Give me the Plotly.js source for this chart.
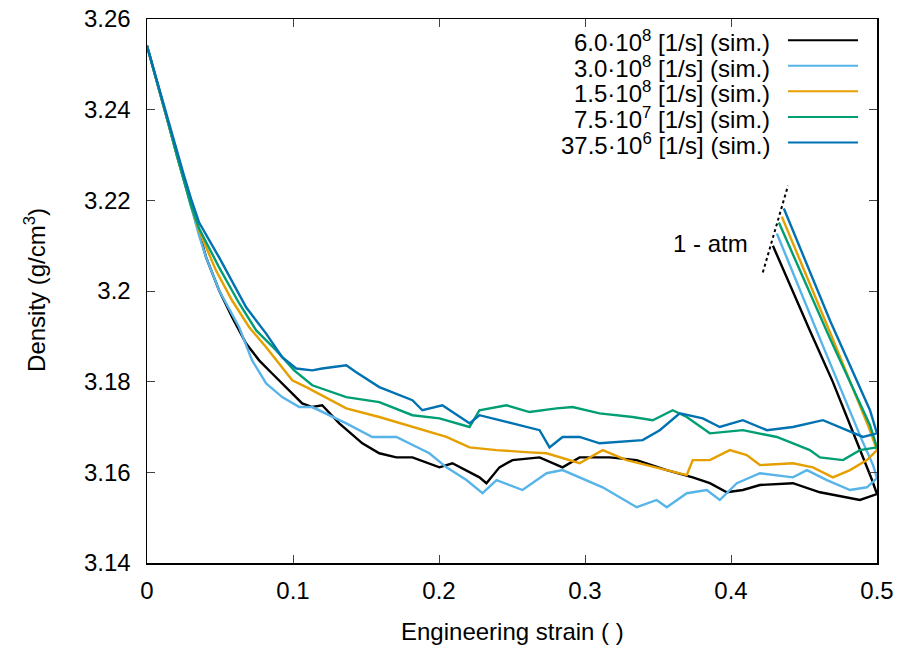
<!DOCTYPE html>
<html>
<head>
<meta charset="utf-8">
<script src="https://cdn.plot.ly/plotly-3.0.1.min.js"></script>
<style>html,body{margin:0;padding:0;background:#fff;}#chart{width:899px;height:648px;}</style>
</head>
<body>
<div id="chart"></div>
<script>
// ---- Data (strain, density); each series: loading path, then unloading to 1 atm ----
const seriesNames = [
  "6.0·10<sup>8</sup> [1/s] (sim.)",
  "3.0·10<sup>8</sup> [1/s] (sim.)",
  "1.5·10<sup>8</sup> [1/s] (sim.)",
  "7.5·10<sup>7</sup> [1/s] (sim.)",
  "37.5·10<sup>6</sup> [1/s] (sim.)"
];
const seriesColors = ["#000000", "#56b4e9", "#e69f00", "#009e73", "#0072b2"];

const strain6e8 = [0, 0.0048, 0.0096, 0.0151, 0.0206, 0.0254, 0.0302, 0.0357, 0.0405, 0.0494, 0.0583, 0.0679, 0.0768, 0.0857, 0.0974,
  0.1063, 0.1132, 0.1200, 0.1317, 0.1475, 0.1591, 0.1708, 0.1818, 0.2003, 0.2092, 0.2277, 0.2325, 0.2414, 0.2503, 0.2689, 0.2846,
  0.2963, 0.3011, 0.3169, 0.3354, 0.3560, 0.3738, 0.3855, 0.3971, 0.4081, 0.4198, 0.4424, 0.4609, 0.4794, 0.4883, 0.5,
  0.4966, 0.4835, 0.4698, 0.4540, 0.4287];
const density6e8 = [3.2541, 3.2486, 3.2430, 3.2364, 3.2298, 3.2243, 3.2188, 3.2129, 3.2074, 3.2001, 3.1942, 3.1884, 3.1847, 3.1818, 3.1781,
  3.1752, 3.1744, 3.1748, 3.1708, 3.1664, 3.1642, 3.1633, 3.1633, 3.1611, 3.1620, 3.1589, 3.1576, 3.1611, 3.1627, 3.1633, 3.1611,
  3.1633, 3.1633, 3.1633, 3.1627, 3.1605, 3.1589, 3.1576, 3.1556, 3.1561, 3.1572, 3.1576, 3.1556, 3.1545, 3.1539, 3.1552,
  3.1583, 3.1689, 3.1799, 3.1913, 3.2100];

const strain3e8 = [0, 0.0048, 0.0096, 0.0151, 0.0206, 0.0254, 0.0302, 0.0357, 0.0405, 0.0494, 0.0631, 0.0720, 0.0816, 0.0926, 0.1043,
  0.1132, 0.1365, 0.1543, 0.1708, 0.1934, 0.2051, 0.2188, 0.2298, 0.2394, 0.2572, 0.2737, 0.2846, 0.2963, 0.3121, 0.3354, 0.3491,
  0.3560, 0.3697, 0.3834, 0.3923, 0.4040, 0.4198, 0.4424, 0.4520, 0.4657, 0.4815, 0.4931, 0.5,
  0.4973, 0.4897, 0.4609, 0.4314];
const density3e8 = [3.2541, 3.2486, 3.2430, 3.2364, 3.2298, 3.2243, 3.2188, 3.2122, 3.2074, 3.2001, 3.1920, 3.1847, 3.1796, 3.1766, 3.1744,
  3.1744, 3.1708, 3.1678, 3.1678, 3.1642, 3.1611, 3.1583, 3.1554, 3.1583, 3.1561, 3.1598, 3.1605, 3.1589, 3.1567, 3.1523, 3.1539,
  3.1523, 3.1554, 3.1561, 3.1539, 3.1576, 3.1598, 3.1589, 3.1605, 3.1583, 3.1561, 3.1567, 3.1587,
  3.1616, 3.1671, 3.1895, 3.2127];

const strain15e8 = [0, 0.0048, 0.0096, 0.0151, 0.0206, 0.0254, 0.0302, 0.0357, 0.0473, 0.0583, 0.0700, 0.0816, 0.0905, 0.0995, 0.1091,
  0.1365, 0.1591, 0.1818, 0.2051, 0.2209, 0.2394, 0.2620, 0.2737, 0.2963, 0.3121, 0.3285, 0.3491, 0.3697, 0.3738, 0.3855, 0.3992,
  0.4108, 0.4198, 0.4424, 0.4561, 0.4698, 0.4815, 0.4931, 0.5,
  0.4938, 0.4678, 0.4348];
const density15e8 = [3.2541, 3.2486, 3.2430, 3.2364, 3.2298, 3.2243, 3.2188, 3.2133, 3.2045, 3.1979, 3.1920, 3.1876, 3.1840, 3.1803, 3.1788,
  3.1741, 3.1722, 3.1700, 3.1678, 3.1655, 3.1649, 3.1644, 3.1642, 3.1620, 3.1649, 3.1627, 3.1611, 3.1594, 3.1627, 3.1627, 3.1649,
  3.1638, 3.1616, 3.1620, 3.1611, 3.1589, 3.1605, 3.1627, 3.1649,
  3.1704, 3.1909, 3.2164];

const strain75e7 = [0, 0.0048, 0.0096, 0.0151, 0.0206, 0.0254, 0.0302, 0.0357, 0.0494, 0.0631, 0.0748, 0.0885, 0.1008, 0.1132, 0.1365,
  0.1591, 0.1818, 0.2003, 0.2209, 0.2277, 0.2462, 0.2620, 0.2805, 0.2915, 0.3100, 0.3326, 0.3464, 0.3601, 0.3697, 0.3855, 0.4081,
  0.4314, 0.4540, 0.4609, 0.4767, 0.4883, 0.5,
  0.4952, 0.4678, 0.4328];
const density75e7 = [3.2541, 3.2486, 3.2430, 3.2364, 3.2298, 3.2243, 3.2188, 3.2138, 3.2052, 3.1973, 3.1913, 3.1869, 3.1825, 3.1792, 3.1766,
  3.1755, 3.1726, 3.1719, 3.1700, 3.1737, 3.1748, 3.1733, 3.1741, 3.1744, 3.1730, 3.1722, 3.1715, 3.1737, 3.1722, 3.1686, 3.1693,
  3.1678, 3.1649, 3.1633, 3.1627, 3.1649, 3.1655,
  3.1704, 3.1895, 3.2151];

const strain375e6 = [0, 0.0048, 0.0096, 0.0151, 0.0206, 0.0254, 0.0302, 0.0357, 0.0494, 0.0679, 0.0816, 0.0926, 0.1022, 0.1132, 0.1200,
  0.1365, 0.1433, 0.1591, 0.1818, 0.1886, 0.2023, 0.2209, 0.2277, 0.2503, 0.2689, 0.2757, 0.2846, 0.2963, 0.3100, 0.3395, 0.3512,
  0.3649, 0.3807, 0.3923, 0.4081, 0.4246, 0.4424, 0.4630, 0.4794, 0.4904, 0.5,
  0.4952, 0.4678, 0.4362];
const density375e6 = [3.2541, 3.2486, 3.2430, 3.2370, 3.2309, 3.2254, 3.2203, 3.2151, 3.2074, 3.1964, 3.1906, 3.1854, 3.1829, 3.1825, 3.1829,
  3.1836, 3.1821, 3.1788, 3.1759, 3.1737, 3.1748, 3.1708, 3.1726, 3.1708, 3.1693, 3.1655, 3.1678, 3.1678, 3.1664, 3.1671, 3.1693,
  3.1730, 3.1719, 3.1700, 3.1715, 3.1693, 3.1700, 3.1715, 3.1693, 3.1678, 3.1686,
  3.1737, 3.1935, 3.2182];

const strainSeries = [strain6e8, strain3e8, strain15e8, strain75e7, strain375e6];
const densitySeries = [density6e8, density3e8, density15e8, density75e7, density375e6];

// "1 - atm" guide line
const atmLineStrain = [0.4218, 0.4390];
const atmLineDensity = [3.2041, 3.2232];
const atmLabel = "1 - atm";
const atmLabelStrain = 0.4129;
const atmLabelDensity = 3.2105;

const xTitle = "Engineering strain ( )";
const yTitle = "Density (g/cm<sup>3</sup>)";

// ---- Build ----
const FONT = "Liberation Sans, Arial, Helvetica, sans-serif";
const traces = strainSeries.map((xs, i) => ({
  type: "scatter", mode: "lines", x: xs, y: densitySeries[i], name: seriesNames[i],
  line: {color: seriesColors[i], width: 2.4}, showlegend: false, hoverinfo: "skip"
}));
traces.push({
  type: "scatter", mode: "lines", x: atmLineStrain, y: atmLineDensity,
  line: {color: "#000", width: 2, dash: "dot"}, showlegend: false, hoverinfo: "skip"
});

const annotations = [{
  x: atmLabelStrain, y: atmLabelDensity, xref: "x", yref: "y", text: atmLabel,
  showarrow: false, xanchor: "right", yanchor: "middle", font: {family: FONT, size: 24, color: "#000"}
}, {
  // y-axis title
  x: -0.1534, y: 0.502, xref: "paper", yref: "paper", text: yTitle, textangle: -90,
  showarrow: false, xanchor: "center", yanchor: "middle", font: {family: FONT, size: 24, color: "#000"}
}, {
  // x-axis title
  x: 0.5, y: -0.125, xref: "paper", yref: "paper", text: xTitle,
  showarrow: false, xanchor: "center", yanchor: "middle", font: {family: FONT, size: 24, color: "#000"}
}];
const shapes = [];
const legendY = [0.961, 0.914, 0.867, 0.820, 0.773];
seriesNames.forEach((nm, i) => {
  annotations.push({
    x: 0.856, y: legendY[i] - 0.002, xref: "paper", yref: "paper", text: nm, showarrow: false,
    xanchor: "right", yanchor: "middle", font: {family: FONT, size: 24, color: "#000"}
  });
  shapes.push({
    type: "line", xref: "paper", yref: "paper", x0: 0.878, x1: 0.974, y0: legendY[i], y1: legendY[i],
    line: {color: seriesColors[i], width: 2}
  });
});

const layout = {
  width: 899, height: 648,
  margin: {l: 147, r: 22, t: 19, b: 85},
  paper_bgcolor: "#fff", plot_bgcolor: "#fff",
  font: {family: FONT, size: 24, color: "#000"},
  xaxis: {
    range: [0, 0.5], dtick: 0.1, tick0: 0, showgrid: false, zeroline: false,
    ticks: "inside", ticklen: 8, tickwidth: 1, tickcolor: "#444",
    showline: true, linecolor: "#000", linewidth: 1.5, mirror: "allticks",
    ticklabelstandoff: 6,
    tickfont: {family: FONT, size: 24}
  },
  yaxis: {
    range: [3.14, 3.26], dtick: 0.02, tick0: 3.14, showgrid: false, zeroline: false,
    ticks: "inside", ticklen: 8, tickwidth: 1, tickcolor: "#444",
    showline: true, linecolor: "#000", linewidth: 1.5, mirror: "allticks",
    ticklabelstandoff: 10,
    tickfont: {family: FONT, size: 24}
  },
  annotations: annotations,
  shapes: shapes
};

Plotly.newPlot("chart", traces, layout, {displayModeBar: false, staticPlot: true});
</script>
</body>
</html>
